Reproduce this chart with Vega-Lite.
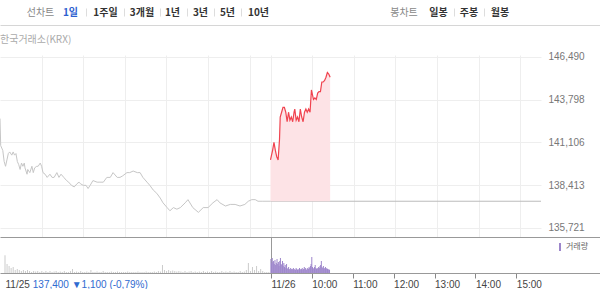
{
  "$schema": "https://vega.github.io/schema/vega-lite/v6.json",
  "padding": 0,
  "spacing": 30,
  "bounds": "flush",
  "background": "white",
  "config": {
    "view": {"stroke": null},
    "axis": {"labelFont": "Liberation Sans"},
    "text": {"font": "Noto Sans CJK KR"}
  },
  "datasets": {
    "prev": [
      {"minute":0,"price":142600},{"minute":1,"price":140900},{"minute":4,"price":140600},{"minute":6,"price":139900},{"minute":8,"price":139600},{"minute":10,"price":140000},{"minute":12,"price":140400},{"minute":14,"price":140500},{"minute":17,"price":140300},{"minute":19,"price":140500},{"minute":21,"price":140300},{"minute":23,"price":140400},{"minute":25,"price":139900},{"minute":27,"price":139700},{"minute":29,"price":139400},{"minute":31,"price":139800},{"minute":33,"price":139600},{"minute":35,"price":139800},{"minute":36,"price":139500},{"minute":39,"price":139100},{"minute":40,"price":139400},{"minute":43,"price":139200},{"minute":46,"price":139600},{"minute":48,"price":139200},{"minute":50,"price":139500},{"minute":53,"price":139600},{"minute":55,"price":139600},{"minute":58,"price":139800},{"minute":60,"price":139600},{"minute":62,"price":139200},{"minute":65,"price":139100},{"minute":68,"price":138900},{"minute":72,"price":139100},{"minute":75,"price":138900},{"minute":78,"price":138900},{"minute":82,"price":139200},{"minute":85,"price":138900},{"minute":88,"price":139100},{"minute":92,"price":138900},{"minute":96,"price":138700},{"minute":99,"price":138600},{"minute":103,"price":138400},{"minute":107,"price":138300},{"minute":111,"price":138500},{"minute":114,"price":138600},{"minute":116,"price":138500},{"minute":120,"price":138400},{"minute":124,"price":138400},{"minute":127,"price":138200},{"minute":130,"price":138400},{"minute":134,"price":138700},{"minute":140,"price":138600},{"minute":144,"price":138600},{"minute":149,"price":138600},{"minute":154,"price":138900},{"minute":159,"price":138900},{"minute":163,"price":139200},{"minute":169,"price":138900},{"minute":173,"price":138900},{"minute":177,"price":139000},{"minute":183,"price":139200},{"minute":187,"price":139200},{"minute":192,"price":139300},{"minute":198,"price":139200},{"minute":202,"price":139200},{"minute":206,"price":138900},{"minute":212,"price":138600},{"minute":216,"price":138400},{"minute":221,"price":138100},{"minute":226,"price":137900},{"minute":231,"price":137600},{"minute":235,"price":137300},{"minute":241,"price":137000},{"minute":245,"price":136800},{"minute":250,"price":137000},{"minute":255,"price":136900},{"minute":260,"price":137000},{"minute":267,"price":137300},{"minute":271,"price":137500},{"minute":278,"price":137000},{"minute":286,"price":136700},{"minute":293,"price":137000},{"minute":300,"price":137000},{"minute":307,"price":137300},{"minute":313,"price":137500},{"minute":317,"price":137300},{"minute":325,"price":137100},{"minute":332,"price":137200},{"minute":339,"price":137200},{"minute":346,"price":137100},{"minute":353,"price":137200},{"minute":358,"price":137400},{"minute":363,"price":137500},{"minute":368,"price":137500},{"minute":372,"price":137400},{"minute":378,"price":137400},{"minute":390,"price":137400}
    ],
    "today": [
      {"minute":390,"price":140000},{"minute":393,"price":140600},{"minute":395,"price":141100},{"minute":397,"price":140600},{"minute":398,"price":140400},{"minute":399,"price":140200},{"minute":401,"price":140000},{"minute":403,"price":141300},{"minute":404,"price":142700},{"minute":406,"price":143000},{"minute":408,"price":143300},{"minute":410,"price":143300},{"minute":412,"price":143000},{"minute":414,"price":142400},{"minute":416,"price":143000},{"minute":418,"price":142500},{"minute":420,"price":142700},{"minute":422,"price":142400},{"minute":424,"price":143000},{"minute":425,"price":143200},{"minute":427,"price":142500},{"minute":429,"price":142700},{"minute":431,"price":142400},{"minute":433,"price":143200},{"minute":435,"price":142700},{"minute":437,"price":142400},{"minute":439,"price":143000},{"minute":441,"price":143200},{"minute":443,"price":143000},{"minute":445,"price":143200},{"minute":447,"price":143000},{"minute":449,"price":144400},{"minute":450,"price":144200},{"minute":452,"price":143800},{"minute":454,"price":143900},{"minute":456,"price":143800},{"minute":458,"price":144200},{"minute":460,"price":144300},{"minute":462,"price":144300},{"minute":464,"price":144900},{"minute":466,"price":144900},{"minute":468,"price":145000},{"minute":470,"price":145200},{"minute":472,"price":145500},{"minute":474,"price":145400},{"minute":476,"price":145200}
    ],
    "vol25": [
      {"minute":0,"volume":1770},{"minute":3,"volume":900},{"minute":6,"volume":700},{"minute":9,"volume":500},{"minute":12,"volume":600},{"minute":15,"volume":300},{"minute":18,"volume":400},{"minute":21,"volume":300},{"minute":24,"volume":200},{"minute":27,"volume":300},{"minute":30,"volume":200},{"minute":33,"volume":300},{"minute":36,"volume":200},{"minute":39,"volume":100},{"minute":42,"volume":200},{"minute":45,"volume":150},{"minute":48,"volume":200},{"minute":51,"volume":100},{"minute":54,"volume":200},{"minute":57,"volume":100},{"minute":60,"volume":200},{"minute":63,"volume":100},{"minute":66,"volume":200},{"minute":69,"volume":100},{"minute":72,"volume":150},{"minute":75,"volume":200},{"minute":78,"volume":100},{"minute":81,"volume":150},{"minute":84,"volume":100},{"minute":87,"volume":200},{"minute":90,"volume":100},{"minute":93,"volume":100},{"minute":96,"volume":200},{"minute":99,"volume":400},{"minute":102,"volume":100},{"minute":105,"volume":150},{"minute":108,"volume":100},{"minute":111,"volume":200},{"minute":114,"volume":100},{"minute":117,"volume":100},{"minute":120,"volume":150},{"minute":123,"volume":100},{"minute":126,"volume":300},{"minute":129,"volume":100},{"minute":132,"volume":100},{"minute":135,"volume":150},{"minute":138,"volume":100},{"minute":141,"volume":100},{"minute":144,"volume":200},{"minute":147,"volume":100},{"minute":150,"volume":100},{"minute":153,"volume":100},{"minute":156,"volume":150},{"minute":159,"volume":100},{"minute":162,"volume":100},{"minute":165,"volume":150},{"minute":168,"volume":100},{"minute":171,"volume":100},{"minute":174,"volume":100},{"minute":177,"volume":100},{"minute":180,"volume":150},{"minute":183,"volume":100},{"minute":186,"volume":100},{"minute":189,"volume":100},{"minute":192,"volume":100},{"minute":195,"volume":150},{"minute":198,"volume":100},{"minute":201,"volume":100},{"minute":204,"volume":100},{"minute":207,"volume":150},{"minute":210,"volume":100},{"minute":213,"volume":100},{"minute":216,"volume":100},{"minute":219,"volume":150},{"minute":222,"volume":100},{"minute":225,"volume":200},{"minute":228,"volume":150},{"minute":231,"volume":800},{"minute":234,"volume":300},{"minute":237,"volume":200},{"minute":240,"volume":300},{"minute":243,"volume":200},{"minute":246,"volume":250},{"minute":249,"volume":200},{"minute":252,"volume":150},{"minute":255,"volume":200},{"minute":258,"volume":150},{"minute":261,"volume":100},{"minute":264,"volume":200},{"minute":267,"volume":100},{"minute":270,"volume":150},{"minute":273,"volume":200},{"minute":276,"volume":100},{"minute":279,"volume":150},{"minute":282,"volume":100},{"minute":285,"volume":150},{"minute":288,"volume":100},{"minute":291,"volume":200},{"minute":294,"volume":100},{"minute":297,"volume":150},{"minute":300,"volume":100},{"minute":303,"volume":200},{"minute":306,"volume":100},{"minute":309,"volume":150},{"minute":312,"volume":100},{"minute":315,"volume":100},{"minute":318,"volume":200},{"minute":321,"volume":100},{"minute":324,"volume":150},{"minute":327,"volume":100},{"minute":330,"volume":200},{"minute":333,"volume":100},{"minute":336,"volume":150},{"minute":339,"volume":100},{"minute":342,"volume":100},{"minute":345,"volume":200},{"minute":348,"volume":100},{"minute":351,"volume":150},{"minute":354,"volume":300},{"minute":357,"volume":1000},{"minute":360,"volume":200},{"minute":363,"volume":600},{"minute":366,"volume":300},{"minute":369,"volume":700},{"minute":372,"volume":200},{"minute":375,"volume":400},{"minute":378,"volume":200},{"minute":381,"volume":100},{"minute":384,"volume":100},{"minute":387,"volume":100}
    ],
    "vol26": [
      {"minute":390,"volume":1400},{"minute":391,"volume":1000},{"minute":392,"volume":1500},{"minute":393,"volume":1100},{"minute":394,"volume":1200},{"minute":395,"volume":900},{"minute":396,"volume":1300},{"minute":397,"volume":800},{"minute":398,"volume":1000},{"minute":399,"volume":1400},{"minute":400,"volume":900},{"minute":401,"volume":1100},{"minute":402,"volume":700},{"minute":403,"volume":1200},{"minute":404,"volume":1500},{"minute":405,"volume":900},{"minute":406,"volume":800},{"minute":407,"volume":1200},{"minute":408,"volume":700},{"minute":409,"volume":1000},{"minute":410,"volume":600},{"minute":411,"volume":800},{"minute":412,"volume":500},{"minute":413,"volume":900},{"minute":414,"volume":400},{"minute":415,"volume":500},{"minute":416,"volume":600},{"minute":417,"volume":400},{"minute":418,"volume":300},{"minute":419,"volume":500},{"minute":420,"volume":400},{"minute":421,"volume":300},{"minute":422,"volume":400},{"minute":423,"volume":500},{"minute":424,"volume":300},{"minute":425,"volume":400},{"minute":426,"volume":300},{"minute":427,"volume":500},{"minute":428,"volume":400},{"minute":429,"volume":300},{"minute":430,"volume":400},{"minute":431,"volume":300},{"minute":432,"volume":500},{"minute":433,"volume":400},{"minute":434,"volume":300},{"minute":435,"volume":400},{"minute":436,"volume":500},{"minute":437,"volume":300},{"minute":438,"volume":400},{"minute":439,"volume":600},{"minute":440,"volume":400},{"minute":441,"volume":500},{"minute":442,"volume":300},{"minute":443,"volume":400},{"minute":444,"volume":500},{"minute":445,"volume":400},{"minute":446,"volume":600},{"minute":447,"volume":500},{"minute":448,"volume":700},{"minute":449,"volume":900},{"minute":450,"volume":1600},{"minute":451,"volume":600},{"minute":452,"volume":500},{"minute":453,"volume":400},{"minute":454,"volume":600},{"minute":455,"volume":800},{"minute":456,"volume":500},{"minute":457,"volume":400},{"minute":458,"volume":500},{"minute":459,"volume":400},{"minute":460,"volume":600},{"minute":461,"volume":500},{"minute":462,"volume":700},{"minute":463,"volume":800},{"minute":464,"volume":1200},{"minute":465,"volume":600},{"minute":466,"volume":500},{"minute":467,"volume":700},{"minute":468,"volume":400},{"minute":469,"volume":500},{"minute":470,"volume":600},{"minute":471,"volume":400},{"minute":472,"volume":500},{"minute":473,"volume":400},{"minute":474,"volume":300},{"minute":475,"volume":400},{"minute":476,"volume":300}
    ]
  },
  "vconcat": [
    {
      "width": 600,
      "height": 25,
      "layer": [
        {"data": {"values": [{}]}, "mark": {"type": "text", "text": "선차트", "fontSize": 10, "color": "#888"},
         "encoding": {"x": {"datum": 40.5, "type": "quantitative", "scale": {"domain": [0, 600], "nice": false},
           "axis": {"orient": "bottom", "title": null, "labels": false, "ticks": false, "domain": true, "domainColor": "#d6d6d6",
                    "grid": true, "values": [86, 124, 160, 187, 214, 241, 454, 484], "gridColor": "#dddddd", "gridDash": [0, 9, 8, 100]}}}},
        {"data": {"values": [{}]}, "mark": {"type": "text", "text": "1일", "fontSize": 10, "fontWeight": "bold", "color": "#2d5fd0"}, "encoding": {"x": {"datum": 70.5, "type": "quantitative"}}},
        {"data": {"values": [{}]}, "mark": {"type": "text", "text": "1주일", "fontSize": 10, "fontWeight": "bold", "color": "#333"}, "encoding": {"x": {"datum": 105.5, "type": "quantitative"}}},
        {"data": {"values": [{}]}, "mark": {"type": "text", "text": "3개월", "fontSize": 10, "fontWeight": "bold", "color": "#333"}, "encoding": {"x": {"datum": 142, "type": "quantitative"}}},
        {"data": {"values": [{}]}, "mark": {"type": "text", "text": "1년", "fontSize": 10, "fontWeight": "bold", "color": "#333"}, "encoding": {"x": {"datum": 172.5, "type": "quantitative"}}},
        {"data": {"values": [{}]}, "mark": {"type": "text", "text": "3년", "fontSize": 10, "fontWeight": "bold", "color": "#333"}, "encoding": {"x": {"datum": 200.5, "type": "quantitative"}}},
        {"data": {"values": [{}]}, "mark": {"type": "text", "text": "5년", "fontSize": 10, "fontWeight": "bold", "color": "#333"}, "encoding": {"x": {"datum": 227.5, "type": "quantitative"}}},
        {"data": {"values": [{}]}, "mark": {"type": "text", "text": "10년", "fontSize": 10, "fontWeight": "bold", "color": "#333"}, "encoding": {"x": {"datum": 258.5, "type": "quantitative"}}},
        {"data": {"values": [{}]}, "mark": {"type": "text", "text": "봉차트", "fontSize": 10, "color": "#888"}, "encoding": {"x": {"datum": 404, "type": "quantitative"}}},
        {"data": {"values": [{}]}, "mark": {"type": "text", "text": "일봉", "fontSize": 10, "fontWeight": "bold", "color": "#333"}, "encoding": {"x": {"datum": 438.5, "type": "quantitative"}}},
        {"data": {"values": [{}]}, "mark": {"type": "text", "text": "주봉", "fontSize": 10, "fontWeight": "bold", "color": "#333"}, "encoding": {"x": {"datum": 469, "type": "quantitative"}}},
        {"data": {"values": [{}]}, "mark": {"type": "text", "text": "월봉", "fontSize": 10, "fontWeight": "bold", "color": "#333"}, "encoding": {"x": {"datum": 500, "type": "quantitative"}}}
      ]
    },
    {
      "spacing": 0,
      "bounds": "flush",
      "vconcat": [
        {
          "width": 541,
          "height": 182,
          "title": {"text": "한국거래소(KRX)", "anchor": "start", "font": "Noto Sans CJK KR", "fontSize": 10, "fontWeight": "normal", "color": "#aaaaaa", "offset": 7},
          "layer": [
            {
              "data": {"name": "prev"},
              "mark": {"type": "line", "color": "#c6c6c6", "strokeWidth": 1, "clip": true},
              "encoding": {
                "x": {"field": "minute", "type": "quantitative", "scale": {"domain": [0, 780], "nice": false},
                      "axis": {"orient": "bottom", "title": null, "labels": false, "ticks": false, "domain": false, "grid": true, "gridColor": "#eeeeee",
                               "values": [60, 120, 180, 240, 300, 360, 390, 450, 510, 570, 630, 690, 750]}},
                "y": {"field": "price", "type": "quantitative", "scale": {"domain": [135150, 146600], "nice": false, "zero": false},
                      "axis": {"orient": "right", "title": null, "values": [135721, 138413, 141106, 143798, 146490], "format": ",d",
                               "ticks": false, "domain": false, "grid": true, "gridColor": "#eeeeee", "labelPadding": 7,
                               "labelFontSize": 10, "labelColor": "#777777"}}
              }
            },
            {
              "data": {"values": [{}]},
              "mark": {"type": "rule", "color": "#bbbbbb", "strokeWidth": 1},
              "encoding": {"x": {"datum": 390, "type": "quantitative"}, "x2": {"datum": 780}, "y": {"datum": 137400, "type": "quantitative"}}
            },
            {
              "data": {"name": "today"},
              "mark": {"type": "area", "color": "#fde3e6", "opacity": 1},
              "encoding": {"x": {"field": "minute", "type": "quantitative"}, "y": {"field": "price", "type": "quantitative"}, "y2": {"datum": 137400}}
            },
            {
              "data": {"name": "today"},
              "mark": {"type": "line", "color": "#f0434f", "strokeWidth": 1.2},
              "encoding": {"x": {"field": "minute", "type": "quantitative"}, "y": {"field": "price", "type": "quantitative"}}
            }
          ]
        },
        {
          "width": 600,
          "height": 36,
          "resolve": {"axis": {"x": "independent"}},
          "layer": [
            {
              "data": {"name": "vol25"},
              "mark": {"type": "bar", "size": 1, "color": "#cccccc", "clip": true},
              "encoding": {
                "x": {"field": "minute", "type": "quantitative", "scale": {"domain": [0, 865.4], "nice": false},
                      "axis": {"orient": "bottom", "title": null, "values": [0, 40, 390, 450, 510, 570, 630, 690, 750],
                               "labelExpr": "datum.value == 0 ? '11/25' : datum.value == 40 ? '137,400 ▼1,100 (-0,79%)' : datum.value == 390 ? '11/26' : (9 + (datum.value - 390) / 60) + ':00'",
                               "labelAlign": "left", "labelBaseline": "top", "labelPadding": 1, "labelFontSize": 10,
                               "labelColor": {"condition": {"test": "datum.value == 40", "value": "#2f6bd0"}, "value": "#444444"},
                               "labelOverlap": false, "labelFlush": false, "labelBound": false,
                               "tickSize": 5, "tickColor": "#888888",
                               "tickOpacity": {"condition": {"test": "datum.value < 100", "value": 0}, "value": 1},
                               "domain": true, "domainColor": "#999999", "grid": false}},
                "y": {"field": "volume", "type": "quantitative", "scale": {"domain": [0, 3600], "nice": false}, "axis": null}
              }
            },
            {
              "data": {"name": "vol26"},
              "mark": {"type": "bar", "size": 1, "clip": true},
              "encoding": {
                "x": {"field": "minute", "type": "quantitative",
                      "axis": {"orient": "top", "title": null, "labels": false, "ticks": false, "domain": true, "domainColor": "#999999",
                               "grid": true, "values": [390], "gridColor": "#999999"}},
                "y": {"field": "volume", "type": "quantitative", "axis": null},
                "color": {"datum": "거래량", "type": "nominal", "scale": {"range": ["#9d86cb"]},
                          "legend": {"title": null, "orient": "none", "legendX": 556, "legendY": 243, "padding": 0,
                                     "symbolType": "M-0.25,-1L0.25,-1L0.25,1L-0.25,1Z", "symbolSize": 64, "symbolStrokeWidth": 0,
                                     "labelFont": "Noto Sans CJK KR", "labelFontSize": 8, "labelColor": "#666666", "labelOffset": 2}}
              }
            }
          ]
        }
      ]
    }
  ]
}
